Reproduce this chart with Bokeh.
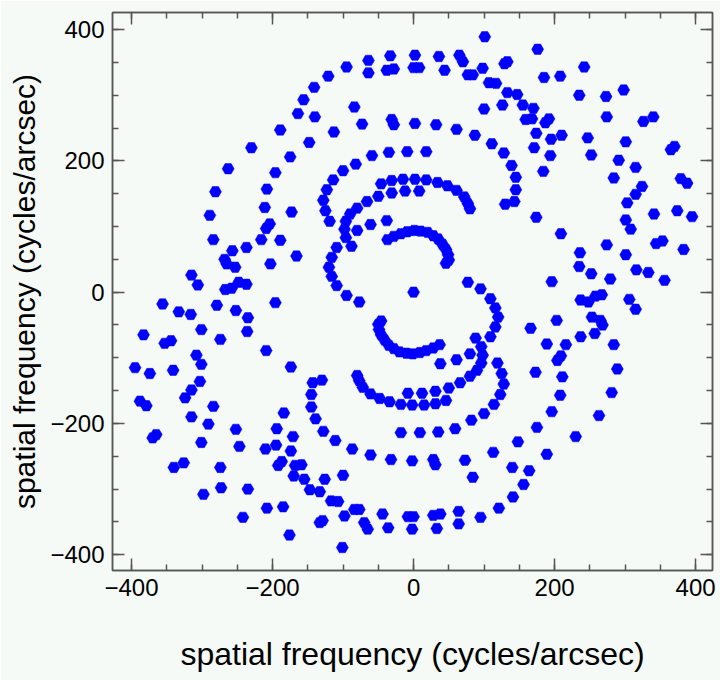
from bokeh.plotting import figure
from bokeh.models import Range1d, FixedTicker, LinearAxis
from bokeh.embed import file_html
from bokeh.resources import INLINE

# u-v samples read from the upper half-plane (v >= 0); the lower half is the
# Hermitian conjugate (-u, -v) of these samples.
u_half = [
    -156, -164, -189, -148, -230,
    101, -141, -121, -95, -64, -64, -33, -38, -28, 2, 0, 8, 36, 44, 65, 70, 77, 84, 98,
    129, 133, 107, 117, 133, 126, 100, -84, -140, -73, -31, -28, 2, 32, 61, 87, 111, 128,
    -113, -59, -35, -9, 18,
    176, 242, 185, 208, 147, 235, 273, 298, 155, 170, 159, 168, 187, 192, 274, 326, 340,
    174, 195, 210, 247, 301, 171, 365, 370,
    -175, -263, -196, -281, -208, -289, -211, -173, -209, -204, -284, -216, -189, -257,
    -237, -166, -268, -265, -253, -203, -315, -306, -248, -237, -267, -258,
    139, 130,
    -82, -100, -114, -123, -128, -125, -119,
    -46, -31, -15, 2, 18, 34, 48, 61, 72, 77, 80,
    -31, -12, 8, -50, -66, -80, -90, -96, -98, -96, -88, -80, -61, -38,
    -109, -116, -120, -116, -109,
    -37, -28, -18, -9, 1, 10, 20, 28, 35, 41, 46, 49, 50, 46,
    77, 95,
    194, 252, 291, 145, 145, 143, 184, 174, 209, 236, 235, 252, 196, 274, 279, 301, 316,
    333, 356, 301, 308, 341, 344, 353, 383, 374, 395, 379, 388, 284, 315, 324, 315, 303,
]
v_half = [
    293, 272, 247, 228, 220,
    389, 312, 329, 343, 353, 334, 360, 338, 340, 361, 342, 342, 359, 338, 361, 351, 331, 331, 341,
    348, 351, 319, 318, 304, 285, 279, 282, 267, 256, 263, 255, 257, 255, 248, 239, 226, 212,
    244, 208, 213, 214, 214,
    370, 343, 327, 329, 301, 300, 298, 308, 285, 280, 263, 264, 258, 264, 267, 260, 267,
    242, 233, 239, 235, 229, 220, 217, 222,
    206, 188, 182, 153, 157, 117, 129, 122, 97, 104, 80, 80, 79, 63,
    68, 55, 50, 43, 38, 43, 26, 11, 15, 12, 4, 6,
    193, 134,
    195, 185, 171, 156, 140, 124, 108,
    165, 170, 172, 172, 171, 167, 162, 155, 145, 135, 127,
    151, 154, 154, 146, 138, 128, 119, 108, 96, 83, 70, 94, 103, 109,
    68, 53, 38, 24, 10,
    80, 85, 89, 92, 94, 93, 91, 86, 81, 73, 65, 57, 49, 44,
    15, 5,
    208, 209, 201, 175, 156, 138, 184, 114, 89, 60, 39, 28, 16, 72, 20, 57, 34,
    30, 18, 110, 96, 119, 74, 78, 65, 124, 115, 173, 166, 174, 190, 161, 149, 136,
]
u_center = [0]
v_center = [0]

u_all = u_half + [-x for x in u_half] + u_center
v_all = v_half + [-y for y in v_half] + v_center

tick_major = [-400, -200, 0, 200, 400]
tick_minor = [-400, -350, -300, -250, -200, -150, -100, -50, 0, 50, 100, 150, 200, 250, 300, 350, 400]
tick_text = {-400: "\u2212400", -200: "\u2212200", 0: "0", 200: "200", 400: "400"}

bg = "#f6faf7"
frame_col = "#555555"
font = "Liberation Sans"

p = figure(width=720, height=680, x_range=Range1d(-427, 424), y_range=Range1d(-424, 426),
           output_backend="svg", toolbar_location=None,
           min_border_left=112, min_border_right=8, min_border_top=12, min_border_bottom=110,
           background_fill_color=bg, border_fill_color=bg,
           outline_line_color=frame_col, outline_line_width=1.5)
p.grid.visible = False
p.xaxis.visible = False
p.yaxis.visible = False

def style_axis(ax, labelled, label_size="32px"):
    ax.ticker = FixedTicker(ticks=tick_major, minor_ticks=tick_minor)
    ax.major_tick_in = 12
    ax.major_tick_out = 0
    ax.minor_tick_in = 6
    ax.minor_tick_out = 0
    ax.axis_line_color = frame_col
    ax.axis_line_width = 1.5
    ax.major_tick_line_color = frame_col
    ax.minor_tick_line_color = frame_col
    ax.major_tick_line_width = 1.5
    ax.minor_tick_line_width = 1.5
    if labelled:
        ax.major_label_overrides = tick_text
        ax.major_label_text_font = font
        ax.major_label_text_font_size = "24px"
        ax.major_label_text_color = "black"
        ax.axis_label = "spatial frequency (cycles/arcsec)"
        ax.axis_label_text_font = font
        ax.axis_label_text_font_size = label_size
        ax.axis_label_text_font_style = "normal"
        ax.axis_label_text_color = "black"
    else:
        ax.major_label_text_font_size = "1px"
        ax.major_label_text_color = None
        ax.major_label_standoff = 0

xb = LinearAxis()
style_axis(xb, True, "32px")
xb.major_label_standoff = 8
xb.axis_label_standoff = 37
p.add_layout(xb, "below")

yl = LinearAxis()
style_axis(yl, True, "30px")
yl.major_label_standoff = 8
yl.axis_label_standoff = 6
p.add_layout(yl, "left")

xt = LinearAxis()
style_axis(xt, False)
p.add_layout(xt, "above")

yr = LinearAxis()
style_axis(yr, False)
p.add_layout(yr, "right")

p.scatter(u_all, v_all, marker="hex", size=12, fill_color="#0000ff", line_color="#0000ff", line_width=0.5)

open("out.html", "w").write(file_html(p, INLINE))
